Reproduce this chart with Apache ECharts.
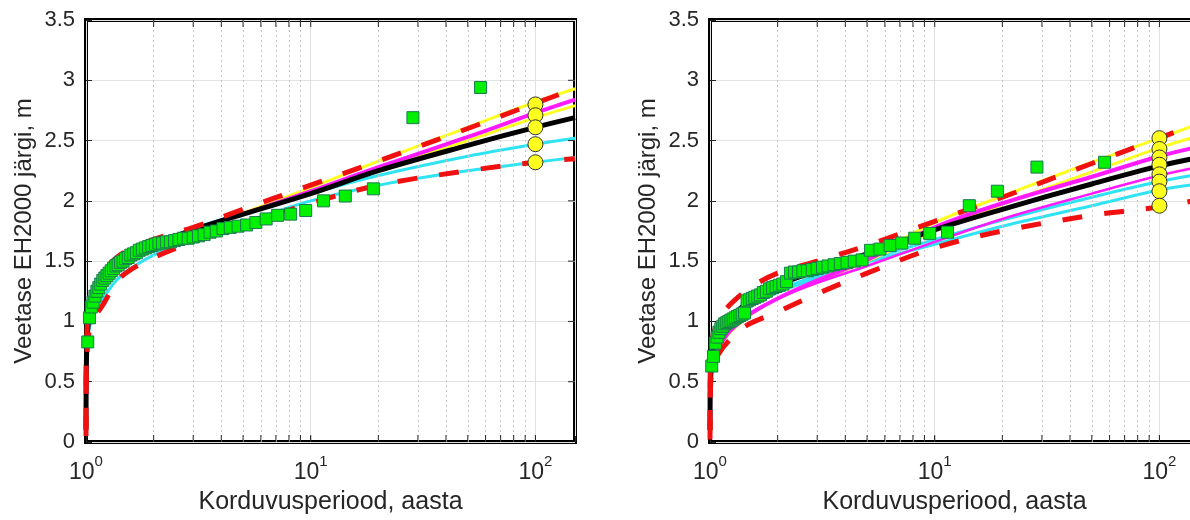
<!DOCTYPE html>
<html><head><meta charset="utf-8">
<script src="https://cdn.jsdelivr.net/npm/echarts@6/dist/echarts.min.js"></script>
<style>html,body{margin:0;padding:0;overflow:hidden;background:#fff}#c{width:1210px;height:520px}</style>
</head><body><div id="c"></div><script>
// ---------------- data ----------------
const xTitle = 'Korduvusperiood, aasta';
const yTitle = 'Veetase EH2000 järgi, m';

// return periods of observed (plotting-position) points
const tObs = [1.018,1.036,1.056,1.075,1.096,1.118,1.14,1.163,1.188,1.213,1.239,1.267,1.295,1.326,1.357,1.39,1.425,1.462,1.5,1.541,1.583,1.629,1.676,1.727,1.781,1.839,1.9,1.966,2.036,2.111,2.192,2.28,2.375,2.478,2.591,2.714,2.85,3.0,3.167,3.353,3.563,3.8,4.071,4.385,4.75,5.182,5.7,6.333,7.125,8.143,9.5,11.4,14.25,19,28.5,57];
const leftObs = [0.83,1.03,1.12,1.16,1.21,1.25,1.28,1.31,1.34,1.36,1.38,1.40,1.42,1.44,1.46,1.47,1.49,1.50,1.52,1.53,1.55,1.56,1.57,1.59,1.60,1.61,1.62,1.63,1.64,1.65,1.65,1.66,1.66,1.67,1.68,1.69,1.69,1.70,1.71,1.72,1.74,1.75,1.77,1.78,1.79,1.80,1.82,1.85,1.88,1.89,1.92,2.00,2.04,2.10,2.69,2.94];
const rightObs = [0.63,0.71,0.82,0.87,0.91,0.94,0.96,0.98,0.99,1.00,1.01,1.02,1.03,1.04,1.05,1.06,1.07,1.17,1.18,1.19,1.20,1.21,1.22,1.24,1.25,1.27,1.28,1.29,1.30,1.31,1.33,1.40,1.41,1.41,1.42,1.42,1.43,1.44,1.45,1.46,1.47,1.48,1.49,1.50,1.51,1.59,1.60,1.63,1.65,1.69,1.73,1.74,1.96,2.08,2.28,2.32];

// fitted curves
const tFit = [1.0001,1.001,1.003,1.01,1.03,1.1,1.2,1.35,1.5,2,3,5,10,20,50,100,150];
const leftBlack   = [0.10,0.42,0.60,0.82,1.02,1.22,1.35,1.44,1.52,1.64,1.76,1.89,2.06,2.25,2.46,2.61,2.69];
const leftMagenta = [0.08,0.40,0.58,0.80,1.01,1.21,1.34,1.44,1.51,1.63,1.76,1.89,2.08,2.28,2.53,2.73,2.84];
const leftYellow1 = [0.06,0.38,0.56,0.79,1.00,1.20,1.33,1.43,1.51,1.63,1.76,1.90,2.11,2.33,2.61,2.82,2.93];
const leftYellow2 = [0.07,0.39,0.57,0.80,1.01,1.21,1.34,1.44,1.51,1.63,1.76,1.89,2.07,2.27,2.50,2.69,2.79];
const leftCyan1   = [0.30,0.50,0.62,0.80,0.98,1.20,1.33,1.43,1.50,1.63,1.77,1.90,2.06,2.21,2.37,2.47,2.52];
const leftCyan2   = [0.25,0.45,0.58,0.76,0.93,1.10,1.20,1.33,1.41,1.55,1.68,1.82,2.00,2.13,2.25,2.32,2.36];
const leftRedUp   = [0.12,0.50,0.70,0.90,1.10,1.30,1.42,1.52,1.58,1.68,1.78,1.93,2.13,2.33,2.60,2.81,2.93];
const leftRedLow  = [0.05,0.35,0.52,0.72,0.90,1.04,1.15,1.31,1.40,1.53,1.66,1.80,1.98,2.13,2.25,2.32,2.35];

const rightBlack    = [0.10,0.35,0.48,0.62,0.76,0.91,1.01,1.10,1.17,1.30,1.42,1.56,1.76,1.93,2.14,2.29,2.36];
const rightCyan1    = [0.30,0.44,0.53,0.65,0.78,0.91,1.00,1.08,1.14,1.26,1.38,1.51,1.68,1.84,2.03,2.16,2.22];
const rightCyan2    = [0.28,0.42,0.51,0.63,0.76,0.89,0.98,1.06,1.12,1.24,1.36,1.49,1.64,1.79,1.96,2.09,2.14];
const rightMagenta1 = [0.06,0.22,0.35,0.50,0.64,0.79,0.90,0.99,1.06,1.19,1.34,1.51,1.78,1.98,2.20,2.37,2.45];
const rightMagenta2 = [0.06,0.22,0.35,0.50,0.65,0.80,0.91,1.00,1.07,1.19,1.32,1.46,1.66,1.85,2.06,2.21,2.28];
const rightYellow1  = [0.05,0.20,0.33,0.48,0.63,0.78,0.89,0.98,1.05,1.19,1.34,1.53,1.82,2.04,2.32,2.52,2.64];
const rightYellow2  = [0.05,0.21,0.34,0.49,0.64,0.79,0.90,0.99,1.06,1.19,1.33,1.50,1.75,1.97,2.24,2.44,2.54];
const rightRedUp    = [0.10,0.45,0.60,0.75,0.88,1.02,1.12,1.21,1.28,1.40,1.50,1.63,1.83,2.03,2.31,2.52,2.65];
const rightRedLow   = [0.02,0.20,0.38,0.52,0.64,0.74,0.83,0.92,0.98,1.08,1.23,1.40,1.61,1.75,1.88,1.95,2.01];

// 100-year estimates
const tCircle = 100;
const leftCircles = [2.80,2.71,2.61,2.47,2.32];
const rightCircles = [2.52,2.43,2.36,2.30,2.22,2.16,2.08,1.96];

// axes
const xMin = 1, xMax = 150;
const yMin = 0, yMax = 3.5, yStep = 0.5;
const minorT = [2,3,4,5,6,7,8,9,20,30,40,50,60,70,80,90];
const majorT = [10,100];
const yTickVals = [0.5,1,1.5,2,2.5,3];

// ---------------- chart ----------------
const FONT = "'Liberation Sans', Arial, Helvetica, sans-serif";
const TXT = '#262626';
const chart = echarts.init(document.getElementById('c'), null, {renderer:'canvas'});

const grids = [
  {left:86, top:20, width:489, height:423},
  {left:710, top:20, width:489, height:423}
];

function xAxisFor(i){
  return {
    type:'log', logBase:10, min:xMin, max:xMax, gridIndex:i,
    axisLine:{show:false},
    axisTick:{show:true, inside:true, length:6, lineStyle:{color:TXT, width:1}},
    axisLabel:{
      margin:12, color:TXT,
      formatter:function(v){
        const e = Math.round(Math.log10(v));
        if (Math.abs(v - Math.pow(10,e)) > 1e-6*v) return '';
        return '{b|10}{s|' + e + '}';
      },
      rich:{
        b:{fontSize:23, fontFamily:FONT, color:TXT, lineHeight:30, verticalAlign:'bottom'},
        s:{fontSize:15, fontFamily:FONT, color:TXT, lineHeight:16, verticalAlign:'top'}
      }
    },
    splitLine:{show:true, lineStyle:{color:'#e2e2e2', width:1}},
    name:xTitle, nameLocation:'middle', nameGap:48,
    nameTextStyle:{fontSize:25, fontFamily:FONT, color:TXT}
  };
}
function yAxisFor(i){
  return {
    type:'value', min:yMin, max:yMax, interval:yStep, gridIndex:i,
    axisLine:{show:false},
    axisTick:{show:true, inside:true, length:6, lineStyle:{color:TXT, width:1}},
    axisLabel:{fontSize:22, fontFamily:FONT, color:TXT, margin:11},
    splitLine:{show:true, lineStyle:{color:'#e2e2e2', width:1}},
    name:yTitle, nameLocation:'middle', nameGap:50, nameRotate:90,
    nameTextStyle:{fontSize:24, fontFamily:FONT, color:TXT}
  };
}

function line(vals, color, width, gi, dashed, z){
  return {
    type:'line', xAxisIndex:gi, yAxisIndex:gi, silent:true,
    data: tFit.map((t,k)=>[t, vals[k]]),
    showSymbol:false, symbol:'none', smooth:0.35,
    lineStyle:{color:color, width:width, type: dashed ? [20,22] : 'solid', cap:'butt', opacity:1},
    z:z
  };
}
function obs(vals, gi){
  return {
    type:'scatter', xAxisIndex:gi, yAxisIndex:gi, silent:true,
    data: tObs.map((t,k)=>[t, vals[k]]),
    symbol:'rect', symbolSize:12,
    itemStyle:{color:'#00f000', borderColor:'#1a7a50', borderWidth:1, opacity:1},
    z:20
  };
}
function circles(vals, gi){
  return {
    type:'scatter', xAxisIndex:gi, yAxisIndex:gi, silent:true,
    data: vals.map(v=>[tCircle, v]),
    symbol:'circle', symbolSize:15,
    itemStyle:{color:'#ffff1f', borderColor:'#333', borderWidth:1, opacity:1},
    z:25
  };
}
function minorGrid(gi){
  return {
    type:'line', xAxisIndex:gi, yAxisIndex:gi, silent:true, data:[], z:1,
    markLine:{
      silent:true, symbol:['none','none'], label:{show:false}, animation:false,
      lineStyle:{color:'#c8c8c8', type:[2,3], width:1},
      data: minorT.map(v=>({xAxis:v}))
    }
  };
}
function tickMarks(gi, withRight){
  const s = [];
  const allX = minorT.concat(majorT);
  s.push({type:'scatter', xAxisIndex:gi, yAxisIndex:gi, silent:true, clip:false, z:30,
    data: allX.map(v=>[v, yMin]), symbol:'rect', symbolSize:[1,7], symbolOffset:[0,-3.5],
    itemStyle:{color:TXT, opacity:1}});
  s.push({type:'scatter', xAxisIndex:gi, yAxisIndex:gi, silent:true, clip:false, z:30,
    data: allX.map(v=>[v, yMax]), symbol:'rect', symbolSize:[1,7], symbolOffset:[0,3.5],
    itemStyle:{color:TXT, opacity:1}});
  if (withRight) {
    s.push({type:'scatter', xAxisIndex:gi, yAxisIndex:gi, silent:true, clip:false, z:30,
      data: yTickVals.map(v=>[xMax, v]), symbol:'rect', symbolSize:[7,1], symbolOffset:[-3.5,0],
      itemStyle:{color:TXT, opacity:1}});
  }
  return s;
}

const RED='#f01010', MAG='#ff1aff', YEL='#ffff22', CYN='#30e3f3';
const series = [
  minorGrid(0), minorGrid(1),
  // left panel
  line(leftCyan2, CYN, 3, 0, false, 3),
  line(leftCyan1, CYN, 3, 0, false, 3),
  line(leftYellow2, YEL, 3, 0, false, 4),
  line(leftYellow1, YEL, 3, 0, false, 4),
  line(leftMagenta, MAG, 4, 0, false, 5),
  line(leftBlack, '#000', 5, 0, false, 6),
  line(leftRedLow, RED, 5, 0, true, 8),
  line(leftRedUp, RED, 5, 0, true, 8),
  obs(leftObs, 0),
  circles(leftCircles, 0),
  // right panel
  line(rightCyan2, CYN, 3, 1, false, 3),
  line(rightCyan1, CYN, 3, 1, false, 3),
  line(rightYellow2, YEL, 3, 1, false, 4),
  line(rightYellow1, YEL, 3, 1, false, 4),
  line(rightMagenta2, MAG, 2.5, 1, false, 5),
  line(rightMagenta1, MAG, 4, 1, false, 5),
  line(rightBlack, '#000', 5, 1, false, 6),
  line(rightRedLow, RED, 5, 1, true, 8),
  line(rightRedUp, RED, 5, 1, true, 8),
  obs(rightObs, 1),
  circles(rightCircles, 1)
].concat(tickMarks(0, true), tickMarks(1, false));

chart.setOption({
  animation:false,
  backgroundColor:'#fff',
  textStyle:{fontFamily:FONT},
  grid: grids.map(g=>Object.assign({show:true, borderColor:'#000', borderWidth:4, backgroundColor:'#fff', containLabel:false}, g)),
  xAxis:[xAxisFor(0), xAxisFor(1)],
  yAxis:[yAxisFor(0), yAxisFor(1)],
  series: series
});
</script></body></html>
